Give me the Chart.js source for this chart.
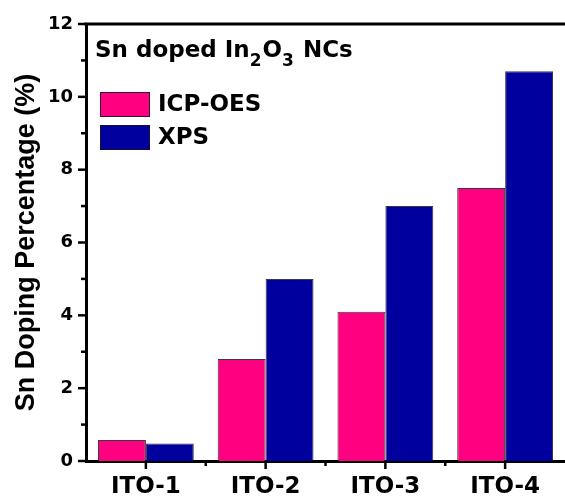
<!DOCTYPE html>
<html>
<head>
<meta charset="utf-8">
<script src="https://cdn.jsdelivr.net/npm/chart.js@4.4.1/dist/chart.umd.min.js"></script>
<style>
  html, body { margin: 0; padding: 0; background: #ffffff; }
  #wrap { width: 565px; height: 498px; }
</style>
</head>
<body>
<div id="wrap"><canvas id="c" width="565" height="498"></canvas></div>
<script>
const categories = ['ITO-1', 'ITO-2', 'ITO-3', 'ITO-4'];
const icpOes = [0.58, 2.8, 4.1, 7.5];
const xps = [0.48, 5.0, 7.0, 10.7];
const seriesNames = ['ICP-OES', 'XPS'];
const yTicks = [0, 2, 4, 6, 8, 10, 12];
const yTitle = 'Sn Doping Percentage (%)';
// annotation: [text, isSubscript]
const annotationParts = [['Sn doped In', false], ['2', true], ['O', false], ['3', true], [' NCs', false]];

const PINK = '#FF0080';
const BLUE = '#00009E';
const EDGE = 'rgba(20,20,40,0.85)';
const FONT = '"DejaVu Sans", sans-serif';

const decorPlugin = {
  id: 'decor',
  afterDraw(chart) {
    const ctx = chart.ctx;
    const a = chart.chartArea;
    const ys = chart.scales.y;
    const xs = chart.scales.x;
    ctx.save();
    ctx.strokeStyle = '#000';
    // top frame line
    ctx.lineWidth = 3;
    ctx.beginPath();
    ctx.moveTo(a.left - 1.5, a.top);
    ctx.lineTo(a.right + 2, a.top);
    ctx.stroke();
    // y ticks (major and minor)
    ctx.lineWidth = 2.5;
    for (let v = ys.min; v <= ys.max; v += 1) {
      const py = ys.getPixelForValue(v);
      const len = (v % 2 === 0) ? 8 : 5;
      ctx.beginPath();
      ctx.moveTo(a.left - len, py);
      ctx.lineTo(a.left, py);
      ctx.stroke();
    }
    // x ticks
    for (let i = 0; i < categories.length; i++) {
      const px = xs.getPixelForValue(i);
      ctx.beginPath();
      ctx.moveTo(px, a.bottom);
      ctx.lineTo(px, a.bottom + 8);
      ctx.stroke();
      if (i < categories.length - 1) {
        const pm = xs.getPixelForValue(i + 0.5);
        ctx.beginPath();
        ctx.moveTo(pm, a.bottom);
        ctx.lineTo(pm, a.bottom + 5);
        ctx.stroke();
      }
    }
    // annotation text
    ctx.fillStyle = '#000';
    ctx.textBaseline = 'alphabetic';
    ctx.textAlign = 'left';
    let tx = a.left + 9;
    const base = 57;
    for (const [t, sub] of annotationParts) {
      ctx.font = sub ? 'bold 17px ' + FONT : 'bold 23px ' + FONT;
      ctx.fillText(t, tx, sub ? base + 9 : base);
      tx += ctx.measureText(t).width + (sub ? 1 : 0);
    }
    // legend
    const ds = chart.data.datasets;
    const boxX = a.left + 14, boxW = 50, boxH = 25;
    const boxYs = [92, 125];
    ctx.font = 'bold 23px ' + FONT;
    ds.forEach((d, i) => {
      ctx.fillStyle = d.backgroundColor;
      ctx.fillRect(boxX, boxYs[i], boxW, boxH);
      ctx.lineWidth = 1;
      ctx.strokeStyle = EDGE;
      ctx.strokeRect(boxX + 0.5, boxYs[i] + 0.5, boxW - 1, boxH - 1);
      ctx.fillStyle = '#000';
      ctx.fillText(d.label, boxX + boxW + 8, boxYs[i] + 19);
    });
    ctx.restore();
  }
};

new Chart(document.getElementById('c'), {
  type: 'bar',
  data: {
    labels: categories,
    datasets: [
      { label: seriesNames[0], data: icpOes, backgroundColor: PINK, borderColor: EDGE, borderWidth: 1,
        categoryPercentage: 0.8, barPercentage: 1.0 },
      { label: seriesNames[1], data: xps, backgroundColor: BLUE, borderColor: EDGE, borderWidth: 1,
        categoryPercentage: 0.8, barPercentage: 1.0 }
    ]
  },
  options: {
    responsive: false,
    devicePixelRatio: 1,
    animation: false,
    layout: { padding: { top: 24, right: 0, left: 0, bottom: 0 } },
    plugins: { legend: { display: false }, tooltip: { enabled: false }, title: { display: false } },
    scales: {
      x: {
        type: 'category',
        offset: true,
        grid: { display: false, drawTicks: false },
        border: { display: true, color: '#000', width: 3 },
        ticks: { color: '#000', font: { family: FONT, weight: 'bold', size: 23 }, padding: 12, maxRotation: 0 },
        afterFit(scale) { scale.height = 37; }
      },
      y: {
        min: 0,
        max: 12,
        afterBuildTicks(scale) { scale.ticks = yTicks.map(v => ({ value: v })); },
        grid: { display: false, drawTicks: false },
        border: { display: true, color: '#000', width: 3 },
        ticks: { color: '#000', font: { family: FONT, weight: 'bold', size: 18 }, padding: 13 },
        title: {
          display: true,
          text: yTitle,
          color: '#000',
          font: { family: '"Liberation Sans", Arial, sans-serif', weight: 'bold', size: 27 },
          padding: { top: 10, bottom: 0 }
        },
        afterFit(scale) { scale.width = 86; }
      }
    }
  },
  plugins: [decorPlugin]
});
</script>
</body>
</html>
